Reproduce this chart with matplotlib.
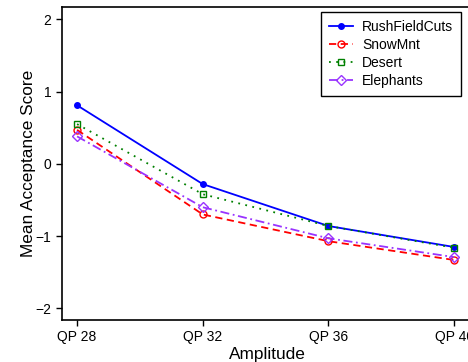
import matplotlib
matplotlib.use("Agg")
import matplotlib.pyplot as plt

plt.rcParams['font.family'] = ['Liberation Sans', 'DejaVu Sans']

categories = ["QP 28", "QP 32", "QP 36", "QP 40"]
rush = [0.81, -0.28, -0.86, -1.15]
snow = [0.47, -0.70, -1.07, -1.33]
desert = [0.55, -0.42, -0.86, -1.16]
elephants = [0.38, -0.60, -1.03, -1.29]

W, H = 468, 362
fig = plt.figure(figsize=(W/100, H/100), dpi=100)
ax = fig.add_axes([62/W, (H-320)/H, 411/W, (320-7)/H])

x = list(range(len(categories)))
ax.plot(x, rush, color='blue', linestyle='-', marker='o', markersize=4, lw=1.3, label='RushFieldCuts')
ax.plot(x, snow, color='red', linestyle=(0, (4, 2.5)), marker='o', markersize=5, mfc='none', lw=1.3, label='SnowMnt')
ax.plot(x, desert, color='green', linestyle=(0, (1, 3)), marker='s', markersize=5, mfc='none', lw=1.3, label='Desert')
ax.plot(x, elephants, color='#9933ff', linestyle=(0, (5, 2, 1, 2)), marker='D', markersize=5, mfc='none', lw=1.3, label='Elephants')

ax.set_xlim(-0.12, 3.15)
ax.set_ylim(-2.16, 2.17)
ax.set_xticks(x)
ax.set_xticklabels(categories, fontsize=10)
ax.set_yticks([-2, -1, 0, 1, 2])
ax.set_yticklabels(['\u22122', '\u22121', '0', '1', '2'], fontsize=10)
ax.tick_params(direction='out', length=4, width=1)
for s in ax.spines.values():
    s.set_linewidth(1.2)

ax.set_xlabel('Amplitude', fontsize=12.4, labelpad=2)
ax.set_ylabel('Mean Acceptance Score', fontsize=12.4, labelpad=0)

leg = ax.legend(loc='upper right', bbox_to_anchor=(461/W, 1-12/H), bbox_transform=fig.transFigure,
                borderaxespad=0, fancybox=False, framealpha=1, edgecolor='black', fontsize=10,
                handlelength=1.7, handletextpad=0.7, labelspacing=0.3, borderpad=0.55)
leg.get_frame().set_linewidth(1.0)

fig.savefig('out.png', dpi=100)
